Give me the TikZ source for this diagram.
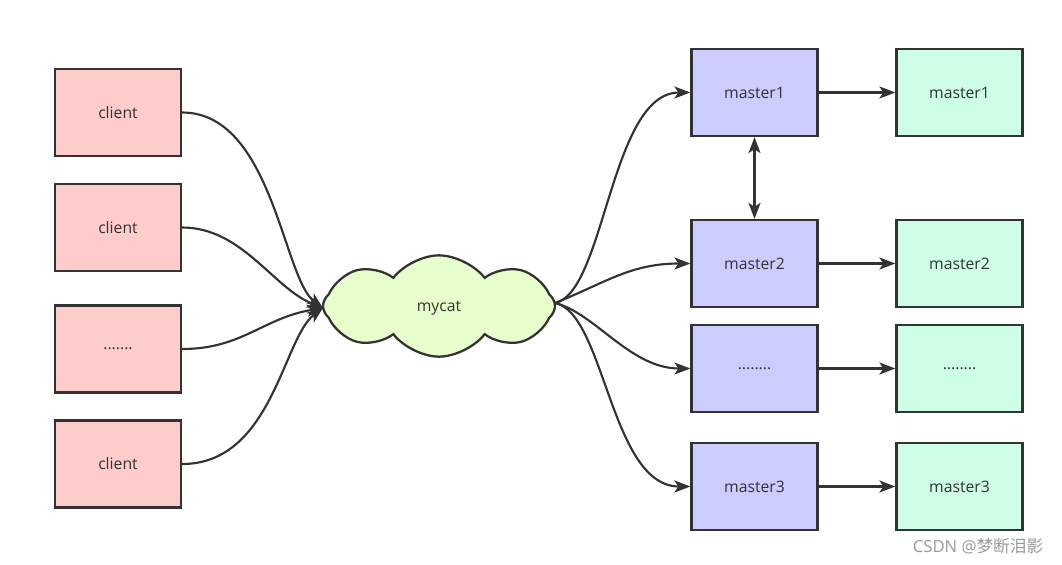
\documentclass[tikz,border=0pt]{standalone}
\usepackage{fontspec}
\setmainfont{Open Sans}
\newfontfamily\cjkfont{Noto Sans CJK SC}
\usetikzlibrary{arrows.meta,shapes.symbols}
\definecolor{edge}{HTML}{333333}
\definecolor{clientfill}{HTML}{FFCCCC}
\definecolor{masterfill}{HTML}{CCCCFF}
\definecolor{slavefill}{HTML}{CCFFE6}
\definecolor{cloudfill}{HTML}{E6FFCC}
\tikzset{
  box/.style={draw=edge, line width=1.7pt, minimum width=94.5pt, minimum height=65.25pt, inner sep=0pt, font=\fontsize{11.8}{13}\selectfont, text=edge},
  clientbox/.style={box, fill=clientfill},
  masterbox/.style={box, fill=masterfill},
  slavebox/.style={box, fill=slavefill},
  tip/.tip={Stealth[length=12pt,width=9pt,inset=3pt]},
  conn/.style={draw=edge, line width=1.6pt, -tip},
  dconn/.style={draw=edge, line width=1.6pt, tip-tip},
}
\begin{document}
\begin{tikzpicture}[x=0.75pt,y=-0.75pt]
\useasboundingbox (0,0) rectangle (1062,564);
% clients
\node[clientbox] (c1) at (118,112.5) {client};
\node[clientbox] (c2) at (118,227.5) {client};
\node[clientbox] (c3) at (118,349) {.......};
\node[clientbox] (c4) at (118,464) {client};
% cloud
\node[cloud, cloud puffs=8, cloud puff arc=105, aspect=2.3, draw=edge, line width=1.7pt, fill=cloudfill, minimum width=174pt, minimum height=76pt, inner sep=0pt, text height=1.4ex, text depth=0pt, font=\fontsize{11.8}{13}\selectfont, text=edge] (cl) at (439,306) {mycat};
\coordinate (clL) at (323,308);
\coordinate (clR) at (555,303);
% masters
\node[masterbox] (m1) at (754.5,92.5) {master1};
\node[masterbox] (m2) at (754.5,263.5) {master2};
\node[masterbox] (m3) at (754.5,368.5) {........};
\node[masterbox] (m4) at (754.5,486.5) {master3};
% slaves
\node[slavebox] (s1) at (959.5,92.5) {master1};
\node[slavebox] (s2) at (959.5,263.5) {master2};
\node[slavebox] (s3) at (959.5,368.5) {........};
\node[slavebox] (s4) at (959.5,486.5) {master3};
% client connectors
\draw[conn] (c1.east) .. controls +(90,0) and +(-40,-30) .. (clL);
\draw[conn] (c2.east) .. controls +(60,0) and +(-50,-20) .. (clL);
\draw[conn] (c3.east) .. controls +(60,0) and +(-60,10) .. (clL);
\draw[conn] (c4.east) .. controls +(90,0) and +(-40,30) .. (clL);
% master connectors
\draw[conn] (clR) .. controls +(50,-10) and +(-80,0) .. (m1.west);
\draw[conn] (clR) .. controls +(50,-20) and +(-60,0) .. (m2.west);
\draw[conn] (clR) .. controls +(40,10) and +(-60,0) .. (m3.west);
\draw[conn] (clR) .. controls +(50,10) and +(-80,0) .. (m4.west);
% master-slave
\draw[conn] (m1) -- (s1);
\draw[conn] (m2) -- (s2);
\draw[conn] (m3) -- (s3);
\draw[conn] (m4) -- (s4);
\draw[dconn] (m1) -- (m2);
% watermark
\node[text=black!40, font=\fontsize{12.5}{14}\selectfont, anchor=center] (wm) at (978,546) {CSDN @{\cjkfont 梦断泪影}};
\end{tikzpicture}
\end{document}
